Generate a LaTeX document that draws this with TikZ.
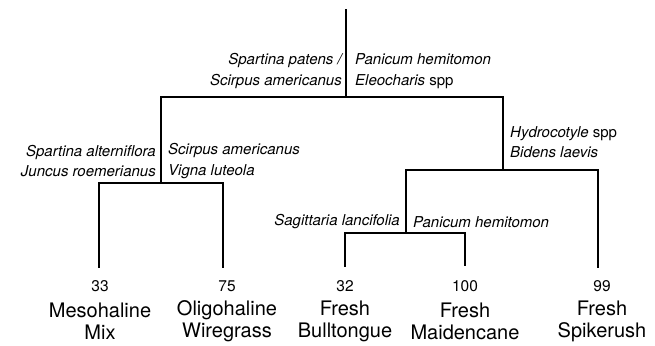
\documentclass[tikz,border=0pt]{standalone}
\usepackage{fontspec}
\setmainfont{TeX Gyre Heros}
\usetikzlibrary{positioning}

\begin{document}
\begin{tikzpicture}[ x=1pt, y=-1pt, branch/.style={ line width=1.3pt, line cap=rect }, taxa/.style={ inner sep=0pt, font=\fontsize{15}{20.5}\selectfont\itshape }, score/.style={ inner sep=0pt, font=\fontsize{15.5}{18}\selectfont }, site/.style={ inner sep=0pt, align=center, font=\fontsize{20}{22}\selectfont } ]
\useasboundingbox (0,0) rectangle (655,345);

% --- Punti di diramazione ---
\coordinate (top) at (346,10);
\coordinate (root) at (346,97);
\coordinate (splitA) at (161,183);
\coordinate (splitB) at (503,170);
\coordinate (splitC) at (406,233);

% --- Estremi delle foglie ---
\coordinate (mixend) at (99,267);
\coordinate (wireend) at (223,267);
\coordinate (bullend) at (345,266);
\coordinate (maidend) at (465,265);
\coordinate (spikeend) at (598,267);

% --- Rami ---
\draw[branch] (top) -- (root);
\draw[branch] (splitA) |- (root) -| (splitB);
\draw[branch] (mixend) |- (splitA) -| (wireend);
\draw[branch] (splitC) |- (splitB) -| (spikeend);
\draw[branch] (bullend) |- (splitC) -| (maidend);

% --- Specie indicatrici ---
\node[taxa, anchor=east, align=right] (patens) at (342,71) {Spartina patens /\\ Scirpus americanus};
\node[taxa, anchor=west, align=left] (hemitomon) at (355,71) {Panicum hemitomon\\ Eleocharis {\upshape spp}};
\node[taxa, anchor=east, align=right] (alterniflora) at (156,161) {Spartina alterniflora\\ Juncus roemerianus};
\node[taxa, anchor=west, align=left] (scirpus) at (168,161) {Scirpus americanus\\ Vigna luteola};
\node[taxa, anchor=west, align=left] (hydrocotyle) at (510,142) {Hydrocotyle {\upshape spp}\\ Bidens laevis};
\node[taxa, anchor=east] (sagittaria) at (400,222) {Sagittaria lancifolia};
\node[taxa, anchor=west] (panicum) at (413,222) {Panicum hemitomon};

% --- Foglie ---
\node[score] (n33) at (100,286) {33};
\node[score] (n75) at (227,286) {75};
\node[score] (n32) at (345,286) {32};
\node[score] (n100) at (465,286) {100};
\node[score] (n99) at (602,286) {99};

\node[site] (mix) at (100,321) {Mesohaline\\ Mix};
\node[site] (wire) at (227,321) {Oligohaline\\ Wiregrass};
\node[site] (bull) at (345,321) {Fresh\\ Bulltongue};
\node[site] (maid) at (465,321) {Fresh\\ Maidencane};
\node[site] (spike) at (602,321) {Fresh\\ Spikerush};
\end{tikzpicture}
\end{document}
